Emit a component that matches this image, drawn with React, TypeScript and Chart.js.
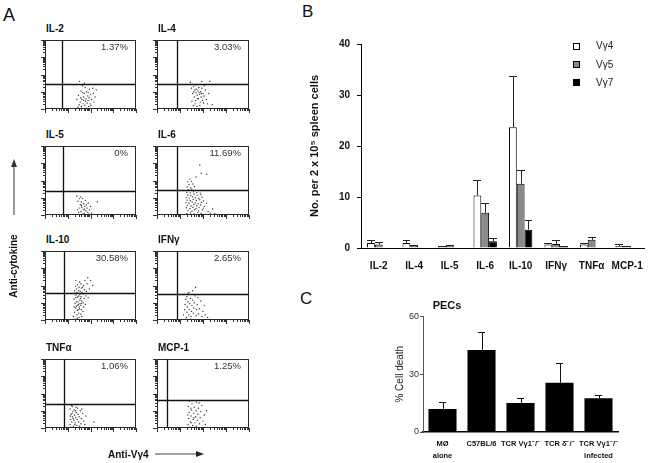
import React, { useEffect, useRef } from "react";
import { Chart, registerables } from "chart.js";

Chart.register(...registerables);

const FONT = "Arial, 'Liberation Sans', Helvetica, sans-serif";

// ---------- Panel A : flow cytometry dot plots (values in log decades 0..4) ----------
const flowTitles = ["IL-2", "IL-4", "IL-5", "IL-6", "IL-10", "IFNγ", "TNFα", "MCP-1"];
const flowPercents = ["1.37%", "3.03%", "0%", "11.69%", "30.58%", "2.65%", "1.06%", "1.25%"];
const flowGateX = [0.73, 0.85, 0.77, 0.85, 0.82, 0.85, 0.82, 0.43];
const flowGateY = [1.46, 1.46, 1.41, 1.46, 1.58, 1.52, 1.41, 1.63];

const il2Dots = [[1.45,0.1],[1.5,0.25],[1.55,0.4],[1.6,0.15],[1.62,0.55],[1.68,0.3],[1.7,0.7],[1.72,0.9],[1.75,0.2],[1.78,0.45],[1.8,0.6],[1.82,1.0],[1.85,0.35],[1.88,0.75],[1.9,0.5],[1.92,0.15],[1.95,1.15],[1.98,0.3],[2.0,0.85],[2.05,0.55],[2.1,1.2],[2.15,0.4],[2.2,0.7],[1.4,0.55],[1.47,0.8],[1.58,1.05],[1.65,1.35],[1.52,1.6],[1.77,1.25],[2.25,1.1],[1.83,0.05],[1.6,0.05],[1.7,0.5],[1.9,0.95],[2.02,0.2],[1.73,1.5],[2.12,0.9],[1.57,0.65],[1.66,0.95],[1.94,0.65]];
const il4Dots = [[1.45,1.55],[1.5,1.2],[1.55,0.9],[1.6,1.3],[1.62,0.7],[1.65,1.1],[1.68,0.5],[1.7,0.95],[1.72,1.4],[1.75,0.8],[1.78,1.05],[1.8,0.6],[1.82,1.25],[1.85,0.85],[1.88,0.4],[1.9,1.0],[1.92,0.7],[1.95,1.2],[1.98,0.5],[2.0,0.9],[2.05,0.75],[2.1,1.1],[2.15,0.55],[2.2,0.3],[1.52,0.45],[1.58,0.2],[1.66,0.3],[1.74,0.15],[1.86,0.2],[2.05,1.35],[2.25,0.9],[2.3,1.6],[1.95,1.6],[1.6,1.0],[1.7,1.15],[1.83,0.95],[1.77,0.6],[1.92,0.9],[2.02,0.35],[2.4,0.25]];
const il5Dots = [[1.4,1.1],[1.45,0.8],[1.5,0.4],[1.52,0.95],[1.55,0.6],[1.58,0.2],[1.6,0.75],[1.62,0.45],[1.65,0.95],[1.68,0.3],[1.7,0.65],[1.72,0.1],[1.75,0.5],[1.78,0.85],[1.8,0.25],[1.82,0.6],[1.85,0.4],[1.88,0.15],[1.9,0.7],[1.95,0.3],[2.0,0.5],[1.48,0.15],[1.57,1.05],[1.66,0.05],[2.05,0.1],[2.3,0.75],[1.93,0.05],[1.43,0.3],[1.6,0.55],[1.73,0.35]];
const il6Dots = [[1.30,0.08],[1.46,0.12],[1.61,0.06],[1.77,0.14],[1.92,0.09],[2.12,0.05],[2.32,0.11],[2.52,0.07],[1.35,0.27],[1.52,0.22],[1.63,0.3],[1.81,0.24],[1.97,0.29],[2.22,0.2],[1.28,0.42],[1.43,0.38],[1.56,0.45],[1.69,0.36],[1.83,0.43],[2.01,0.4],[2.42,0.35],[1.32,0.57],[1.48,0.52],[1.6,0.6],[1.73,0.54],[1.89,0.58],[2.06,0.5],[1.26,0.72],[1.39,0.68],[1.53,0.75],[1.66,0.7],[1.79,0.66],[1.93,0.73],[2.16,0.69],[1.31,0.86],[1.45,0.83],[1.58,0.9],[1.71,0.84],[1.86,0.88],[2.02,0.81],[1.27,1.01],[1.41,0.98],[1.54,1.05],[1.67,1.0],[1.81,0.97],[1.96,1.03],[1.34,1.16],[1.47,1.13],[1.61,1.2],[1.75,1.14],[1.91,1.18],[1.29,1.31],[1.44,1.28],[1.59,1.35],[1.73,1.3],[1.88,1.27],[1.37,1.46],[1.51,1.5],[1.66,1.44],[1.31,1.62],[1.46,1.58],[1.63,1.65],[1.39,1.76],[1.56,1.8],[1.34,1.92],[1.5,1.95],[1.43,2.08],[1.92,2.42],[2.16,2.36],[1.86,2.9],[1.7,2.2]];
const il10Dots = [[1.25,0.2],[1.3,0.45],[1.35,0.7],[1.32,0.95],[1.28,1.2],[1.36,1.45],[1.3,1.7],[1.34,1.95],[1.4,0.3],[1.42,0.55],[1.38,0.8],[1.45,1.05],[1.41,1.3],[1.44,1.55],[1.39,1.8],[1.43,2.05],[1.5,0.15],[1.48,0.4],[1.52,0.65],[1.47,0.9],[1.53,1.15],[1.49,1.4],[1.55,1.65],[1.5,1.9],[1.52,2.2],[1.58,0.35],[1.6,0.6],[1.57,0.85],[1.62,1.1],[1.59,1.35],[1.63,1.6],[1.6,1.85],[1.67,0.5],[1.7,0.75],[1.68,1.0],[1.72,1.25],[1.69,1.5],[1.73,1.75],[1.7,2.0],[1.78,0.9],[1.8,1.4],[1.82,1.65],[1.85,2.1],[1.9,1.3],[1.95,1.8],[2.0,2.3],[2.05,1.55],[1.88,2.45],[2.1,2.0],[1.75,2.3],[1.33,0.05],[1.46,0.6],[1.37,1.05],[1.54,0.95],[1.4,1.6],[1.56,1.25],[1.45,1.35],[1.35,1.3],[1.5,0.75],[1.62,0.2],[1.28,0.75],[1.42,0.1],[1.65,1.9],[1.58,2.1],[1.36,2.3],[1.3,1.55],[1.48,1.7],[1.53,1.5],[1.44,0.85],[1.61,0.95]];
const ifngDots = [[1.15,0.3],[1.2,0.6],[1.22,0.9],[1.25,1.2],[1.2,1.5],[1.28,0.15],[1.3,0.45],[1.32,0.75],[1.35,1.05],[1.3,1.35],[1.38,0.3],[1.4,0.6],[1.42,0.95],[1.45,1.25],[1.4,1.6],[1.48,0.2],[1.5,0.5],[1.52,0.85],[1.55,1.15],[1.58,0.4],[1.6,0.7],[1.62,1.0],[1.65,1.4],[1.7,0.25],[1.72,0.6],[1.75,0.9],[1.8,0.35],[1.85,0.65],[1.9,1.1],[1.95,0.2],[2.0,0.5],[2.1,0.3],[2.2,0.15],[1.68,1.9],[1.25,0.05],[1.35,1.55],[1.45,0.05],[1.55,1.7],[2.05,0.85],[1.78,1.3]];
const tnfaDots = [[1.1,0.2],[1.12,0.5],[1.15,0.8],[1.1,1.1],[1.18,0.35],[1.2,0.65],[1.22,0.95],[1.2,1.25],[1.25,0.1],[1.27,0.45],[1.3,0.75],[1.28,1.05],[1.33,0.3],[1.35,0.6],[1.38,0.9],[1.36,1.2],[1.4,0.15],[1.42,0.5],[1.45,0.8],[1.48,0.35],[1.5,0.65],[1.55,1.0],[1.58,0.25],[1.6,0.55],[1.65,0.85],[1.7,0.4],[1.75,0.2],[1.8,0.7],[2.15,0.35],[1.13,0.05],[1.16,1.3],[1.24,0.55],[1.31,0.2],[1.19,0.85],[1.34,1.0],[1.43,1.15],[1.26,1.35],[1.52,0.1],[1.62,1.1],[1.11,0.7]];
const mcp1Dots = [[1.35,0.2],[1.38,0.55],[1.4,0.9],[1.36,1.25],[1.42,1.55],[1.45,0.35],[1.48,0.7],[1.5,1.05],[1.52,1.4],[1.55,0.15],[1.58,0.5],[1.6,0.85],[1.62,1.2],[1.65,0.3],[1.68,0.65],[1.7,1.0],[1.72,1.5],[1.75,0.45],[1.78,0.8],[1.8,1.15],[1.85,0.25],[1.88,0.6],[1.9,0.95],[1.95,1.3],[2.0,0.4],[2.05,0.75],[2.1,0.2],[1.42,0.05],[1.5,0.3],[1.6,0.6],[1.34,0.75],[1.83,1.45],[2.15,1.0],[1.47,1.15],[1.7,0.1]];
const flowDots = [il2Dots, il4Dots, il5Dots, il6Dots, il10Dots, ifngDots, tnfaDots, mcp1Dots];

// ---------- Panel B ----------
const bCategories = ["IL-2", "IL-4", "IL-5", "IL-6", "IL-10", "IFNγ", "TNFα", "MCP-1"];
const bSeriesNames = ["Vγ4", "Vγ5", "Vγ7"];
const vg4Values = [1.0, 1.0, 0.2, 10.3, 23.7, 0.7, 0.7, 0.4];
const vg4Errors = [1.6, 1.6, 0.3, 13.3, 33.7, 0.9, 1.0, 0.8];
const vg5Values = [0.7, 0.45, 0.45, 6.9, 12.6, 0.8, 1.6, 0.25];
const vg5Errors = [1.1, 0.6, 0.6, 8.8, 15.2, 1.6, 2.2, 0.3];
const vg7Values = [0, 0, 0, 1.3, 3.6, 0.3, 0, 0.1];
const vg7Errors = [0, 0, 0, 2.0, 5.4, 0.35, 0, 0.1];
const bColors = ["#ffffff", "#8a8a8a", "#000000"];

// ---------- Panel C ----------
const cCategories = [["MØ", "alone"], "C57BL/6", "TCR Vγ1⁻/⁻", "TCR δ⁻/⁻", ["TCR Vγ1⁻/⁻", "infected"]];
const cValues = [12, 42.5, 15, 25.5, 17.5];
const cErrors = [15.5, 52, 17.5, 36, 19];

// layout of the dot plots
const colLeft = [45, 157];
const colWidth = [93, 94];
const rowTop = [38, 144, 249, 357];
const boxH = 71;

function errorBarPlugin(errs: number[][], color: string, capHalf?: number) {
  return {
    id: "errorBars",
    afterDatasetsDraw(chart: any) {
      const ctx = chart.ctx;
      const yS = chart.scales.y;
      ctx.save();
      ctx.strokeStyle = color;
      ctx.lineWidth = 1;
      chart.data.datasets.forEach((ds: any, i: number) => {
        const meta = chart.getDatasetMeta(i);
        meta.data.forEach((el: any, j: number) => {
          const v = ds.data[j];
          const e = errs[i][j];
          if (e == null || e <= v + 0.02) return;
          const { x, y, width } = el.getProps(["x", "y", "width"], true);
          const yt = Math.round(yS.getPixelForValue(e)) + 0.5;
          const cx = Math.round(x) + 0.5;
          const half = capHalf != null ? capHalf : width / 2;
          ctx.beginPath();
          ctx.moveTo(cx, y);
          ctx.lineTo(cx, yt);
          ctx.moveTo(Math.round(x - half), yt);
          ctx.lineTo(Math.round(x + half), yt);
          ctx.stroke();
        });
      });
      ctx.restore();
    },
  };
}

function flowPlugin(gx: number, gy: number) {
  return {
    id: "flowDeco",
    beforeDatasetsDraw(chart: any) {
      const { ctx, chartArea: a } = chart;
      const xs = chart.scales.x;
      const ys = chart.scales.y;
      ctx.save();
      ctx.strokeStyle = "#2a2a2a";
      ctx.lineWidth = 1;
      ctx.strokeRect(a.left + 0.5, a.top + 0.5, a.right - a.left - 1, a.bottom - a.top - 1);
      const px = Math.round(xs.getPixelForValue(gx)) + 0.5;
      const py = Math.round(ys.getPixelForValue(gy)) + 0.5;
      ctx.strokeStyle = "#111";
      ctx.lineWidth = 1.3;
      ctx.beginPath();
      ctx.moveTo(px, a.top);
      ctx.lineTo(px, a.bottom);
      ctx.moveTo(a.left, py);
      ctx.lineTo(a.right, py);
      ctx.stroke();
      ctx.lineWidth = 1;
      ctx.strokeStyle = "#333";
      ctx.beginPath();
      for (let d = 0; d <= 4; d++) {
        for (let m = 1; m <= 9; m++) {
          if (d === 4 && m > 1) break;
          const v = d + Math.log10(m);
          const len = m === 1 ? 4 : 2;
          const tx = Math.round(xs.getPixelForValue(v)) + 0.5;
          const ty = Math.round(ys.getPixelForValue(v)) + 0.5;
          ctx.moveTo(tx, a.bottom);
          ctx.lineTo(tx, a.bottom + len);
          ctx.moveTo(a.left - len, ty);
          ctx.lineTo(a.left, ty);
        }
      }
      ctx.stroke();
      ctx.restore();
    },
  };
}

function FlowPlot({ idx }: { idx: number }) {
  const ref = useRef<HTMLCanvasElement>(null);
  const col = idx % 2;
  const row = Math.floor(idx / 2);
  const x = colLeft[col];
  const y = rowTop[row];
  const w = colWidth[col];
  useEffect(() => {
    const chart = new Chart(ref.current as HTMLCanvasElement, {
      type: "scatter",
      data: {
        datasets: [
          {
            data: flowDots[idx].map(([px, py]) => ({ x: px, y: py })),
            pointRadius: 0.7,
            pointBackgroundColor: "#333",
            pointBorderWidth: 0,
          },
        ],
      },
      options: {
        responsive: false,
        animation: false,
        devicePixelRatio: 1,
        layout: { padding: { left: 6, top: 2, right: 2, bottom: 6 } },
        scales: {
          x: { type: "linear", min: 0, max: 4, display: false },
          y: { type: "linear", min: 0, max: 4, display: false },
        },
        plugins: { legend: { display: false }, tooltip: { enabled: false } },
      },
      plugins: [flowPlugin(flowGateX[idx], flowGateY[idx])],
    } as any);
    return () => chart.destroy();
  }, [idx]);
  return (
    <>
      <canvas
        ref={ref}
        width={w + 8}
        height={boxH + 8}
        style={{ position: "absolute", left: x - 6, top: y - 2 }}
      />
      <Txt x={x + 1} y={y - 9} size={10} bold>
        {flowTitles[idx]}
      </Txt>
      <Txt x={x + w - 10} y={y + 9} size={9.5} align="right" color="#333">
        {flowPercents[idx]}
      </Txt>
    </>
  );
}

function Txt(props: {
  x: number;
  y: number;
  size: number;
  bold?: boolean;
  align?: "left" | "center" | "right";
  color?: string;
  rotate?: boolean;
  children: React.ReactNode;
}) {
  const { x, y, size, bold, align = "left", color = "#111", rotate, children } = props;
  let transform = "";
  if (rotate) transform = "translate(-50%,-50%) rotate(-90deg)";
  else if (align === "center") transform = "translateX(-50%)";
  else if (align === "right") transform = "translateX(-100%)";
  return (
    <div
      style={{
        position: "absolute",
        left: x,
        top: rotate ? y : y - size / 2,
        fontFamily: FONT,
        fontSize: size,
        lineHeight: `${size}px`,
        fontWeight: bold ? "bold" : "normal",
        color,
        whiteSpace: "nowrap",
        transform,
      }}
    >
      {children}
    </div>
  );
}

function ChartB() {
  const ref = useRef<HTMLCanvasElement>(null);
  useEffect(() => {
    const values = [vg4Values, vg5Values, vg7Values];
    const errs = [vg4Errors, vg5Errors, vg7Errors];
    const chart = new Chart(ref.current as HTMLCanvasElement, {
      type: "bar",
      data: {
        labels: bCategories,
        datasets: bSeriesNames.map((name, i) => ({
          label: name,
          data: values[i],
          backgroundColor: bColors[i],
          borderColor: "#000",
          borderWidth: 1,
          borderSkipped: "bottom",
        })),
      },
      options: {
        responsive: false,
        animation: false,
        devicePixelRatio: 1,
        layout: { padding: { left: 0, top: 14, right: 5, bottom: 4 } },
        datasets: { bar: { categoryPercentage: 0.66, barPercentage: 1 } },
        scales: {
          x: {
            grid: { display: false, drawTicks: false },
            border: { display: true, color: "#000", width: 1 },
            ticks: {
              font: { family: FONT, size: 10, weight: "bold" },
              color: "#111",
              padding: 12,
              maxRotation: 0,
              autoSkip: false,
            },
            afterFit: (s: any) => {
              s.height = 28;
            },
          },
          y: {
            min: 0,
            max: 40,
            ticks: {
              stepSize: 10,
              font: { family: FONT, size: 10, weight: "bold" },
              color: "#111",
              padding: 7,
            },
            grid: { display: true, drawOnChartArea: false, drawTicks: true, tickLength: 4, color: "#000" },
            border: { display: true, color: "#000", width: 1 },
            title: {
              display: true,
              text: "No. per 2 x 10⁵ spleen cells",
              font: { family: FONT, size: 11, weight: "bold" },
              color: "#111",
              padding: { top: 8, bottom: 0 },
            },
            afterFit: (s: any) => {
              s.width = 61;
            },
          },
        },
        plugins: { legend: { display: false }, tooltip: { enabled: false } },
      },
      plugins: [errorBarPlugin(errs, "#222")],
    } as any);
    return () => chart.destroy();
  }, []);
  return <canvas ref={ref} width={355} height={250} style={{ position: "absolute", left: 300, top: 30 }} />;
}

function ChartC() {
  const ref = useRef<HTMLCanvasElement>(null);
  useEffect(() => {
    const chart = new Chart(ref.current as HTMLCanvasElement, {
      type: "bar",
      data: {
        labels: cCategories,
        datasets: [
          {
            label: "% Cell death",
            data: cValues,
            backgroundColor: "#000",
            borderWidth: 0,
          },
        ],
      },
      options: {
        responsive: false,
        animation: false,
        devicePixelRatio: 1,
        layout: { padding: { left: 20, top: 5, right: 22, bottom: 0 } },
        datasets: { bar: { categoryPercentage: 1, barPercentage: 0.72 } },
        scales: {
          x: {
            grid: { display: false, drawTicks: false },
            border: { display: true, color: "#000", width: 1.5 },
            ticks: {
              font: { family: FONT, size: 7.5, weight: "bold", lineHeight: 1.6 },
              color: "#111",
              padding: 6,
              maxRotation: 0,
              autoSkip: false,
            },
            afterFit: (s: any) => {
              s.height = 31;
            },
          },
          y: {
            min: 0,
            max: 60,
            ticks: {
              stepSize: 30,
              font: { family: FONT, size: 9 },
              color: "#333",
              padding: 1,
            },
            grid: { display: true, drawOnChartArea: false, drawTicks: true, tickLength: 3, color: "#555" },
            border: { display: true, color: "#555", width: 1 },
            title: {
              display: true,
              text: "% Cell death",
              font: { family: FONT, size: 10 },
              color: "#222",
              padding: { top: 4, bottom: 0 },
            },
            afterFit: (s: any) => {
              s.width = 33;
            },
          },
        },
        plugins: { legend: { display: false }, tooltip: { enabled: false } },
      },
      plugins: [errorBarPlugin([cErrors], "#111", 3.5)],
    } as any);
    return () => chart.destroy();
  }, []);
  return <canvas ref={ref} width={270} height={153} style={{ position: "absolute", left: 370, top: 310 }} />;
}

export default function App() {
  const legendY = [46, 64.5, 82.5];
  return (
    <div
      style={{
        position: "fixed",
        left: 0,
        top: 0,
        width: 655,
        height: 463,
        background: "#fff",
        overflow: "hidden",
      }}
    >
      <Txt x={3} y={15} size={18}>A</Txt>
      <Txt x={302} y={11} size={17}>B</Txt>
      <Txt x={300} y={298} size={17}>C</Txt>

      {flowTitles.map((_, i) => (
        <FlowPlot key={i} idx={i} />
      ))}

      <Txt x={14} y={266} size={10} bold rotate>
        Anti-cytokine
      </Txt>
      <Txt x={108} y={455} size={10} bold>
        Anti-Vγ4
      </Txt>
      <svg width={655} height={463} style={{ position: "absolute", left: 0, top: 0, pointerEvents: "none" }}>
        <line x1={14} y1={215} x2={14} y2={166} stroke="#555" strokeWidth={1.2} />
        <polygon points="14,159 11,167 17,167" fill="#333" />
        <line x1={155} y1={454} x2={197} y2={454} stroke="#444" strokeWidth={1.2} />
        <polygon points="204,454 196,451 196,457" fill="#222" />
      </svg>

      <ChartB />
      {bSeriesNames.map((name, i) => (
        <React.Fragment key={name}>
          <div
            style={{
              position: "absolute",
              left: 573,
              top: legendY[i] - 3.5,
              width: 5,
              height: 5,
              border: "1px solid #000",
              background: bColors[i],
            }}
          />
          <Txt x={596} y={legendY[i]} size={10} color="#222">
            {name}
          </Txt>
        </React.Fragment>
      ))}

      <Txt x={447} y={305} size={11} bold align="center">
        PECs
      </Txt>
      <ChartC />
    </div>
  );
}
